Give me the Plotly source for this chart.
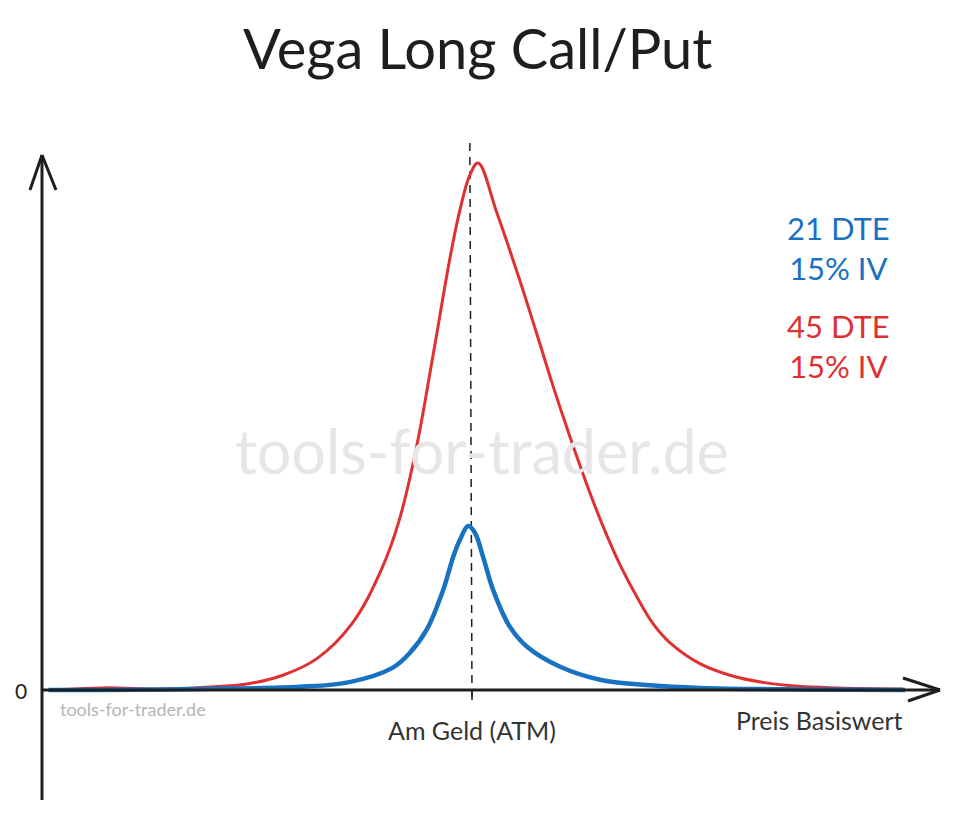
import plotly.graph_objects as go

# ---- data (price of underlying, vega in relative units; ATM = 100) ----
red_price = [5, 14, 29, 40, 48, 56, 64, 72, 79, 83, 87, 91, 95, 97.2, 99.5, 101.4,
             105.8, 111.2, 115.1, 118.8, 122.8, 126.7, 130.5, 134.4, 138.4, 142.1, 146,
             153, 160, 168, 176, 185, 200.2]
red_vega = [0.1, 0.4, 0.2, 0.6, 1.2, 2.8, 6.0, 12.5, 23.0, 32.0, 45.7, 63.8, 82.5,
            91.1, 97.7, 100, 90.5, 77.5, 67.5, 57.8, 48.0, 39.0, 31.0, 23.8, 17.6, 12.6,
            9.0, 5.0, 2.8, 1.4, 0.7, 0.4, 0.2]

blue_price = [1.5, 13.5, 36.5, 60, 71.5, 81.5, 85.5, 89.5, 93.3, 95.6, 97.2, 99.1,
              100.7, 102.6, 104.9, 108.8, 112.8, 120.5, 130, 141.4, 153, 176.3, 200.7]
blue_vega = [0, 0, 0.2, 0.6, 1.5, 4.2, 7.0, 11.5, 19.0, 25.2, 28.5, 31.1, 29.8, 25.2,
             19.0, 12.0, 8.2, 4.4, 1.9, 0.9, 0.4, 0.1, 0]

atm_price = 100
title = "Vega Long Call/Put"
x_label = "Preis Basiswert"
atm_label = "Am Geld (ATM)"
zero_label = "0"
series_labels = [("21 DTE<br>15% IV", "#1971c2"), ("45 DTE<br>15% IV", "#e03131")]
watermark = "tools-for-trader.de"

# ---- layout geometry ----
W, H = 954, 814
OFF = 8                          # page body margin
X0_PX, PX_PER_X = 42 - OFF, 4.3   # price 0 at screen pixel 42
Y0_PX, PX_PER_Y = 690 - OFF, 5.27 # vega 0 at screen pixel 690


def dx(px):
    return (px - OFF - X0_PX) / PX_PER_X


def dy(py):
    return (Y0_PX - (py - OFF)) / PX_PER_Y


INK = "#1e1e1e"
FONT = "Lato, 'Noto Sans', sans-serif"

fig = go.Figure()
fig.add_trace(go.Scatter(x=red_price, y=red_vega, mode="lines",
                         line=dict(color="#e03131", width=3, shape="spline", smoothing=1.1),
                         hoverinfo="skip"))
fig.add_trace(go.Scatter(x=blue_price, y=blue_vega, mode="lines",
                         line=dict(color="#1971c2", width=4.5, shape="spline", smoothing=1.0),
                         hoverinfo="skip"))

shapes = []
# y axis with arrow
shapes.append(dict(type="line", x0=0, x1=0, y0=dy(800), y1=dy(155), line=dict(color=INK, width=3)))
shapes.append(dict(type="line", x0=0, x1=dx(30), y0=dy(155), y1=dy(190), line=dict(color=INK, width=3)))
shapes.append(dict(type="line", x0=0, x1=dx(56), y0=dy(155), y1=dy(190), line=dict(color=INK, width=3)))
# x axis with arrow
shapes.append(dict(type="line", x0=0, x1=dx(940), y0=0, y1=0, line=dict(color=INK, width=3)))
shapes.append(dict(type="line", x0=dx(940), x1=dx(903), y0=0, y1=dy(678), line=dict(color=INK, width=3)))
shapes.append(dict(type="line", x0=dx(940), x1=dx(908), y0=0, y1=dy(701), line=dict(color=INK, width=3)))
# ATM tick and dashed line
shapes.append(dict(type="line", x0=atm_price, x1=atm_price, y0=0, y1=dy(700), line=dict(color=INK, width=1.5)))
shapes.append(dict(type="line", x0=atm_price - 0.5, x1=atm_price, y0=dy(143), y1=dy(700),
                   line=dict(color=INK, width=1.5, dash="8px,6px"), layer="below"))

ann = []
ann.append(dict(x=dx(477), y=dy(47), text=title, showarrow=False,
                font=dict(size=56, color=INK, family=FONT), xanchor="center", yanchor="middle"))
ann.append(dict(x=dx(482), y=dy(450), text=watermark, showarrow=False,
                font=dict(size=61, color="#e6e6e6", family=FONT), xanchor="center", yanchor="middle"))
ann.append(dict(x=dx(58), y=dy(709), text=watermark, showarrow=False,
                font=dict(size=18, color="#b5b5b5", family=FONT), xanchor="left", yanchor="middle"))
ann.append(dict(x=dx(21), y=0, text=zero_label, showarrow=False,
                font=dict(size=21, color=INK, family=FONT), xanchor="center", yanchor="middle"))
ann.append(dict(x=atm_price, y=dy(730), text=atm_label, showarrow=False,
                font=dict(size=25, color="#333333", family=FONT), xanchor="center", yanchor="middle"))
ann.append(dict(x=dx(905), y=dy(720), text=x_label, showarrow=False,
                font=dict(size=25, color="#333333", family=FONT), xanchor="right", yanchor="middle"))
for (txt, col), cy in zip(series_labels, [248, 346]):
    ann.append(dict(x=dx(838), y=dy(cy), text=txt, showarrow=False,
                    font=dict(size=31, color=col, family=FONT), xanchor="center", yanchor="middle",
                    align="center"))

fig.update_layout(
    width=W, height=H,
    margin=dict(l=0, r=0, t=0, b=0),
    paper_bgcolor="white", plot_bgcolor="white",
    showlegend=False,
    xaxis=dict(range=[dx(OFF), dx(W + OFF)], visible=False, fixedrange=True),
    yaxis=dict(range=[dy(H + OFF), dy(OFF)], visible=False, fixedrange=True),
    shapes=shapes, annotations=ann,
)

fig.write_html("out.html")
